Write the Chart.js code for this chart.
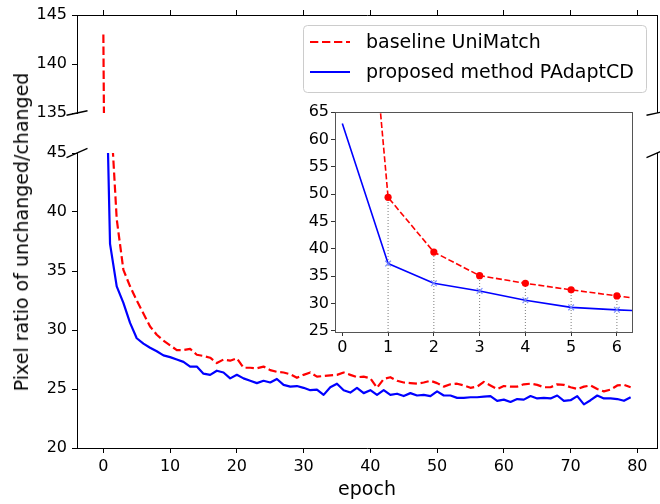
<!DOCTYPE html>
<html>
<head>
<meta charset="utf-8">
<script src="https://cdn.jsdelivr.net/npm/chart.js@4.4.0/dist/chart.umd.min.js"></script>
<style>
  body { margin: 0; background: #fff; }
  #wrap { position: relative; width: 660px; height: 504px; overflow: hidden; font-family: 'DejaVu Sans', sans-serif; }
  #wrap canvas { position: absolute; }
  #ylabel {
    position: absolute; left: 21px; top: 232px;
    transform: translate(-50%, -50%) rotate(-90deg);
    font-size: 19px; white-space: nowrap; color: #000;
  }
</style>
</head>
<body>
<div id="wrap">
  <canvas id="topChart" width="660" height="135" style="left:0;top:0"></canvas>
  <canvas id="mainChart" width="660" height="374" style="left:0;top:130px"></canvas>
  <canvas id="insetChart" width="345" height="260" style="left:295px;top:100px"></canvas>
  <div id="ylabel">Pixel ratio of unchanged/changed</div>
</div>
<script>
// epochs 0..79
var epochs = [0,1,2,3,4,5,6,7,8,9,10,11,12,13,14,15,16,17,18,19,
              20,21,22,23,24,25,26,27,28,29,30,31,32,33,34,35,36,37,38,39,
              40,41,42,43,44,45,46,47,48,49,50,51,52,53,54,55,56,57,58,59,
              60,61,62,63,64,65,66,67,68,69,70,71,72,73,74,75,76,77,78,79];

// baseline UniMatch
var baseline = [143, 49.4, 39.4, 35.1, 33.7, 32.5, 31.4, 30.3, 29.6, 29.1,
                28.7, 28.3, 28.3, 28.4, 27.9, 27.8, 27.65, 27.2, 27.5, 27.4,
                27.6, 26.8, 26.8, 26.75, 26.9, 26.6, 26.45, 26.4, 26.25, 25.95,
                26.2, 26.4, 26.05, 26.1, 26.15, 26.2, 26.4, 26.2, 26.0, 26.05,
                25.9, 25.1, 25.85, 26.0, 25.7, 25.55, 25.5, 25.45, 25.55, 25.7,
                25.5, 25.2, 25.4, 25.45, 25.3, 25.1, 25.2, 25.6, 25.3, 25.0,
                25.25, 25.2, 25.2, 25.4, 25.45, 25.35, 25.15, 25.15, 25.4, 25.35,
                25.15, 25.0, 25.2, 25.3, 25.0, 24.8, 24.95, 25.3, 25.35, 25.15];

// proposed method PAdaptCD
var proposed = [62.9, 37.3, 33.7, 32.3, 30.6, 29.3, 28.85, 28.5, 28.2, 27.85,
                27.7, 27.5, 27.3, 26.9, 26.9, 26.3, 26.2, 26.55, 26.4, 25.9,
                26.2, 25.9, 25.7, 25.5, 25.7, 25.55, 25.85, 25.35, 25.2, 25.25,
                25.1, 24.9, 24.95, 24.5, 25.15, 25.45, 24.9, 24.7, 25.1, 24.65,
                24.9, 24.5, 24.9, 24.5, 24.6, 24.4, 24.65, 24.45, 24.5, 24.4,
                24.8, 24.45, 24.45, 24.25, 24.25, 24.3, 24.3, 24.35, 24.4, 24.0,
                24.1, 23.9, 24.15, 24.1, 24.4, 24.2, 24.25, 24.2, 24.45, 24.0,
                24.05, 24.4, 23.7, 24.05, 24.45, 24.2, 24.2, 24.15, 24.0, 24.3];

var xTicks = [0, 10, 20, 30, 40, 50, 60, 70, 80];
var yTicksTop = [135, 140, 145];
var yTicksMain = [20, 25, 30, 35, 40, 45];
var insetXTicks = [0, 1, 2, 3, 4, 5, 6];
var insetYTicks = [25, 30, 35, 40, 45, 50, 55, 60, 65];
var markedEpochs = [1, 2, 3, 4, 5, 6];

var FONT = "'DejaVu Sans', sans-serif";
var RED = '#ff0000', BLUE = '#0000ff';

function toPoints(xs, ys) {
  return xs.map(function (x, i) { return { x: x, y: ys[i] }; });
}

function fixedTicks(values) {
  return function (axis) { axis.ticks = values.map(function (v) { return { value: v }; }); };
}

// black spine + outward tick marks
function axisLook(extra) {
  var base = {
    type: 'linear',
    border: { display: true, color: '#000', width: 1 },
    grid: { display: true, drawOnChartArea: false, drawTicks: true, tickLength: 5, color: '#000' },
    ticks: { color: '#000', font: { family: FONT, size: 16 }, padding: 5 }
  };
  return Object.assign(base, extra);
}

function mainLines(width, dash) {
  return [
    {
      label: 'proposed method PAdaptCD',
      data: toPoints(epochs, proposed),
      borderColor: BLUE, borderWidth: width, pointRadius: 0,
      borderJoinStyle: 'round', clip: 0
    },
    {
      label: 'baseline UniMatch',
      data: toPoints(epochs, baseline),
      borderColor: RED, borderWidth: width, borderDash: dash, pointRadius: 0,
      borderJoinStyle: 'round', clip: 0
    }
  ];
}

// right spine and the "//" marks of the broken axis
function frameParts(edge, dy) {
  return {
    id: 'frameParts',
    afterDraw: function (chart) {
      var a = chart.chartArea, c = chart.ctx;
      c.save();
      c.strokeStyle = '#000';
      c.lineWidth = 1;
      c.beginPath();
      c.moveTo(Math.round(a.right) + 0.5, a.top);
      c.lineTo(Math.round(a.right) + 0.5, a.bottom);
      c.stroke();
      var y = edge === 'bottom' ? a.bottom : a.top;
      c.lineWidth = 1.4;
      [a.left, a.right].forEach(function (x) {
        c.beginPath();
        c.moveTo(x - 10.5, y + dy);
        c.lineTo(x + 10.5, y - dy);
        c.stroke();
      });
      c.restore();
    }
  };
}

var boxLegend = {
  id: 'boxLegend',
  afterDraw: function (chart) {
    var c = chart.ctx;
    var sets = chart.data.datasets;
    var rows = [
      { ds: sets[1], y: 42 },
      { ds: sets[0], y: 72 }
    ];
    c.save();
    c.beginPath();
    c.roundRect(303.5, 25.5, 343, 67, 4);
    c.fillStyle = 'rgba(255,255,255,0.8)';
    c.fill();
    c.strokeStyle = '#cccccc';
    c.lineWidth = 1;
    c.stroke();
    c.font = '19px ' + FONT;
    c.textBaseline = 'middle';
    rows.forEach(function (r) {
      c.beginPath();
      c.strokeStyle = r.ds.borderColor;
      c.lineWidth = 2.2;
      c.setLineDash(r.ds.borderDash || []);
      c.moveTo(310, r.y);
      c.lineTo(350, r.y);
      c.stroke();
      c.setLineDash([]);
      c.fillStyle = '#000';
      c.fillText(r.ds.label, 366, r.y + 1);
    });
    c.restore();
  }
};

var common = {
  responsive: false,
  animation: false,
  devicePixelRatio: 1,
  plugins: { legend: { display: false }, tooltip: { enabled: false } }
};

// upper part of the broken axis (135..145)
new Chart(document.getElementById('topChart'), {
  type: 'line',
  data: { datasets: mainLines(2.2, [8.3, 3.7]) },
  options: Object.assign({}, common, {
    layout: { padding: { left: 0, right: 3, top: 0, bottom: 22 } },
    scales: {
      x: axisLook({
        position: 'top', min: -3.95, max: 82.95,
        ticks: { display: false },
        afterBuildTicks: fixedTicks(xTicks),
        afterFit: function (s) { s.height = 15; }
      }),
      y: axisLook({
        min: 135, max: 145,
        afterBuildTicks: fixedTicks(yTicksTop),
        afterFit: function (s) { s.width = 77; }
      })
    }
  }),
  plugins: [frameParts('bottom', 2.3), boxLegend]
});

// lower part of the broken axis (20..45)
new Chart(document.getElementById('mainChart'), {
  type: 'line',
  data: { datasets: mainLines(2.2, [8.3, 3.7]) },
  options: Object.assign({}, common, {
    layout: { padding: { left: 0, right: 3, top: 23, bottom: 0 } },
    scales: {
      x: axisLook({
        position: 'bottom', min: -3.95, max: 82.95,
        ticks: { color: '#000', font: { family: FONT, size: 16 }, padding: 4 },
        title: { display: true, text: 'epoch', color: '#000', font: { family: FONT, size: 19 }, padding: { top: 2, bottom: 3 } },
        afterBuildTicks: fixedTicks(xTicks),
        afterFit: function (s) { s.height = 56; }
      }),
      y: axisLook({
        min: 20, max: 45,
        afterBuildTicks: fixedTicks(yTicksMain),
        afterFit: function (s) { s.width = 77; }
      })
    }
  }),
  plugins: [frameParts('top', 4.6)]
});

// zoom on the first epochs
var insetYMin = 24.8;
var insetSets = [
  {
    data: toPoints(epochs.slice(0, 8), proposed.slice(0, 8)),
    borderColor: BLUE, borderWidth: 1.6, borderJoinStyle: 'round',
    pointStyle: 'crossRot', pointBorderColor: 'rgba(110,130,255,0.9)', pointBorderWidth: 1.2,
    pointRadius: function (ctx) { return markedEpochs.indexOf(ctx.dataIndex) >= 0 ? 4 : 0; },
    clip: 0
  },
  {
    data: toPoints(epochs.slice(0, 8), baseline.slice(0, 8)),
    borderColor: RED, borderWidth: 1.6, borderDash: [6, 2.6], borderJoinStyle: 'round',
    pointStyle: 'circle', pointBackgroundColor: RED, pointBorderColor: RED, pointBorderWidth: 0,
    pointRadius: function (ctx) { return markedEpochs.indexOf(ctx.dataIndex) >= 0 ? 3.6 : 0; },
    clip: 0
  }
];
markedEpochs.forEach(function (e) {
  insetSets.push({
    data: [{ x: e, y: insetYMin }, { x: e, y: baseline[e] }],
    borderColor: 'rgba(110,110,110,0.9)', borderWidth: 1, borderDash: [1, 2],
    pointRadius: 0, clip: 0
  });
});

var insetFrame = {
  id: 'insetFrame',
  beforeDraw: function (chart) {
    var a = chart.chartArea, c = chart.ctx;
    c.save();
    c.fillStyle = '#fff';
    c.fillRect(a.left, a.top, a.right - a.left, a.bottom - a.top);
    c.restore();
  },
  afterDraw: function (chart) {
    var a = chart.chartArea, c = chart.ctx;
    c.save();
    c.strokeStyle = '#555';
    c.lineWidth = 1;
    c.strokeRect(Math.round(a.left) + 0.5, Math.round(a.top) + 0.5,
                 Math.round(a.right - a.left), Math.round(a.bottom - a.top));
    c.restore();
  }
};

function insetAxis(extra) {
  var base = {
    type: 'linear',
    border: { display: false },
    grid: { display: true, drawOnChartArea: false, drawTicks: true, tickLength: 4, color: '#333' },
    ticks: { color: '#000', font: { family: FONT, size: 16 }, padding: 2 }
  };
  return Object.assign(base, extra);
}

new Chart(document.getElementById('insetChart'), {
  type: 'line',
  data: { datasets: insetSets },
  options: Object.assign({}, common, {
    layout: { padding: { left: 0, right: 8, top: 12, bottom: 2 } },
    scales: {
      x: insetAxis({
        min: -0.16, max: 6.33,
        afterBuildTicks: fixedTicks(insetXTicks),
        afterFit: function (s) { s.height = 26; }
      }),
      y: insetAxis({
        min: insetYMin, max: 65,
        afterBuildTicks: fixedTicks(insetYTicks),
        afterFit: function (s) { s.width = 40; }
      })
    }
  }),
  plugins: [insetFrame]
});
</script>
</body>
</html>
